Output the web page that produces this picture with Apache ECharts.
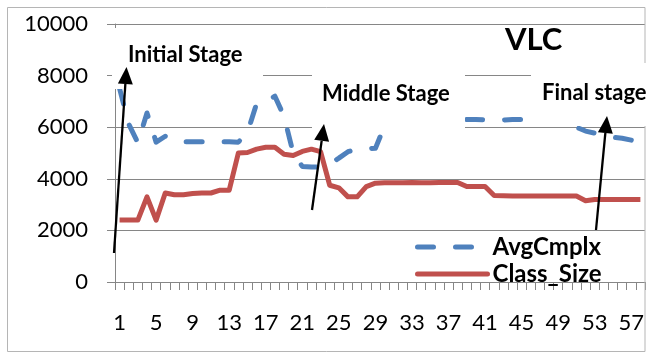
<!DOCTYPE html>
<html>
<head>
<meta charset="utf-8">
<script src="https://cdn.jsdelivr.net/npm/echarts@6/dist/echarts.min.js"></script>
<style>
  html, body { margin: 0; padding: 0; background: #fff; }
  #chart { width: 647px; height: 354px; }
</style>
</head>
<body>
<div id="chart"></div>
<script>
// x categories (run number)
const categories = ['1','2','3','4','5','6','7','8','9','10','11','12','13','14','15','16','17','18','19','20',
  '21','22','23','24','25','26','27','28','29','30','31','32','33','34','35','36','37','38','39','40',
  '41','42','43','44','45','46','47','48','49','50','51','52','53','54','55','56','57','58'];

// AvgCmplx - blue dashed (parts are hidden under the label boxes, estimated)
const avgCmplx = [7500, 6120, 5400, 6550, 5420, 5650, 5470, 5440, 5440, 5440,
  5440, 5440, 5440, 5420, 5800, 6920, 6990, 7200, 6420, 5000,
  4480, 4460, 4460, 4580, 4800, 5050, 5170, 5170, 5180, 6050,
  6350, 6500, 6450, 6400, 6400, 6350, 6350, 6300, 6300, 6300,
  6280, 6280, 6280, 6300, 6300, 6300, 6250, 6250, 6250, 6200,
  6000, 5850, 5770, 5700, 5610, 5570, 5500, 5400];

// Class_Size - red solid
const classSize = [2400, 2400, 2400, 3300, 2400, 3450, 3380, 3380, 3430, 3450,
  3450, 3560, 3560, 5000, 5020, 5150, 5220, 5220, 4950, 4900,
  5060, 5150, 5050, 3750, 3650, 3300, 3300, 3700, 3830, 3850,
  3850, 3850, 3860, 3850, 3850, 3860, 3860, 3860, 3700, 3700,
  3700, 3350, 3340, 3330, 3330, 3330, 3330, 3330, 3330, 3330,
  3330, 3150, 3200, 3200, 3200, 3200, 3200, 3200];

const gridGray = '#868686';
const FONT = 'Lato';

// arrow = line + triangle head
const arrow = (x1, y1, x2, y2) => {
    const dx = x2 - x1, dy = y2 - y1;
    const len = Math.sqrt(dx * dx + dy * dy);
    const ux = dx / len, uy = dy / len;
    const headLen = 17, headHalf = 7.5;
    const bx = x2 - ux * headLen, by = y2 - uy * headLen;
    return [
        { type: 'line', z: 30, shape: { x1: x1, y1: y1, x2: bx, y2: by },
          style: { stroke: '#000', lineWidth: 2.3 } },
        { type: 'polygon', z: 30,
          shape: { points: [[x2, y2], [bx - uy * headHalf, by + ux * headHalf], [bx + uy * headHalf, by - ux * headHalf]] },
          style: { fill: '#000' } }
    ];
};

const whiteBox = (x, y, w, h) => ({
    type: 'rect', z: 20, shape: { x: x, y: y, width: w, height: h },
    style: { fill: '#fff' }
});

const label = (text, x, y, size) => ({
    type: 'text', z: 31,
    style: { text: text, x: x, y: y, fill: '#000', font: 'bold ' + size + 'px ' + FONT,
             align: 'left', verticalAlign: 'middle' }
});

const option = {
    animation: false,
    backgroundColor: '#fff',
    grid: { left: 115, right: 2, top: 24, bottom: 72 },
    legend: {
        orient: 'vertical',
        left: 410,
        top: 230,
        itemWidth: 70,
        itemHeight: 14,
        itemGap: 3,
        itemStyle: { opacity: 0 },
        lineStyle: { width: 5, cap: 'round' },
        textStyle: { color: '#000', fontFamily: FONT, fontWeight: 'bold', fontSize: 24 },
        data: ['AvgCmplx', 'Class_Size']
    },
    xAxis: {
        type: 'category',
        data: categories,
        boundaryGap: true,
        axisLine: { lineStyle: { color: gridGray, width: 1 } },
        axisTick: { show: true, interval: 0, length: 8, lineStyle: { color: gridGray } },
        axisLabel: { interval: 3, margin: 30, color: '#000', fontFamily: FONT, fontSize: 22 }
    },
    yAxis: {
        type: 'value',
        min: 0,
        max: 10000,
        interval: 2000,
        axisLine: { show: true, lineStyle: { color: gridGray, width: 1 } },
        axisTick: { show: true, length: 8, lineStyle: { color: gridGray } },
        splitLine: { lineStyle: { color: gridGray, width: 1 } },
        axisLabel: { margin: 27, color: '#000', fontFamily: FONT, fontSize: 22,
                     formatter: (v) => String(v) }
    },
    series: [
        {
            name: 'AvgCmplx',
            type: 'line',
            data: avgCmplx,
            symbol: 'none',
            lineStyle: { color: '#4F81BD', width: 5, type: [16, 22], cap: 'round', join: 'round' },
            itemStyle: { color: '#4F81BD' }
        },
        {
            name: 'Class_Size',
            type: 'line',
            data: classSize,
            symbol: 'none',
            lineStyle: { color: '#C0504D', width: 5, join: 'round' },
            itemStyle: { color: '#C0504D' }
        }
    ],
    graphic: [
        // outer chart border
        { type: 'rect', z: 1, shape: { x: 7.5, y: 7.5, width: 637.5, height: 344 },
          style: { fill: 'none', stroke: '#b5b5b5', lineWidth: 1 } },
        // white label boxes that cover parts of the plot
        whiteBox(112, 28, 151, 61),
        whiteBox(312, 64, 153, 64.5),
        whiteBox(531, 63, 116, 63),
        label('VLC', 505, 40, 31),
        label('Initial Stage', 128, 55, 22),
        label('Middle Stage', 322, 94, 22),
        label('Final stage', 542, 93, 22),
        ...arrow(114, 253, 126.5, 67),
        ...arrow(312, 210, 324, 124),
        ...arrow(596, 230, 607, 116)
    ]
};

const chart = echarts.init(document.getElementById('chart'));
chart.setOption(option);
</script>
</body>
</html>
